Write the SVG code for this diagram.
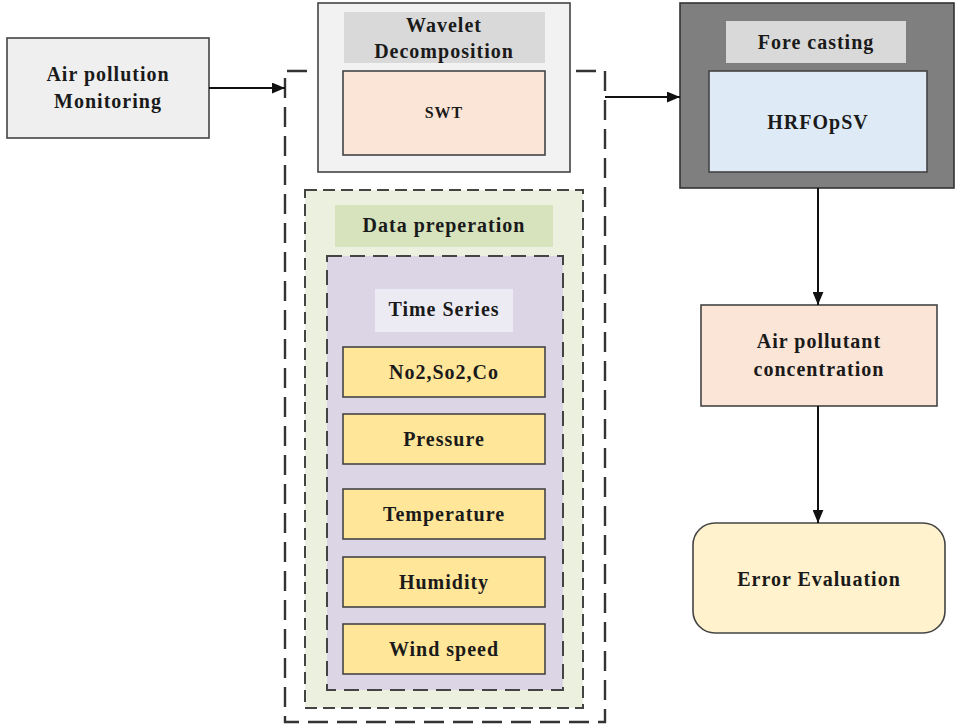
<svg xmlns="http://www.w3.org/2000/svg" width="955" height="728" viewBox="0 0 955 728">
<defs>
<marker id="ah" viewBox="0 0 12 10" refX="12" refY="5" markerWidth="13" markerHeight="11" orient="auto" markerUnits="userSpaceOnUse">
<path d="M0,0 L12,5 L0,10 z" fill="#111"/>
</marker>
<style>
text{font-family:'Liberation Serif','DejaVu Serif',serif;font-weight:bold;font-size:20px;letter-spacing:1px;fill:#1a1a1a;text-anchor:middle}
.box{stroke:#444;stroke-width:1.6}
.yel{fill:#ffe699;stroke:#444;stroke-width:1.6}
.edge{stroke:#111;stroke-width:2;fill:none;marker-end:url(#ah)}
</style>
</defs>
<rect width="955" height="728" fill="#fff"/>

<g id="outer-group">
<path d="M307,71 H285 V722 H605 V71 H570" fill="none" stroke="#333" stroke-width="2.4" stroke-dasharray="20 9"/>
</g>

<g id="air-monitoring">
<rect class="box" x="7" y="38" width="202" height="100" fill="#efefef"/>
<text x="108" y="81">Air pollution</text>
<text x="108" y="108">Monitoring</text>
</g>

<g id="wavelet">
<rect class="box" x="318" y="3" width="252" height="169" fill="#f2f2f2"/>
<rect x="344" y="12" width="201" height="51" fill="#d9d9d9"/>
<text x="444" y="32">Wavelet</text>
<text x="444" y="58">Decomposition</text>
</g>
<g id="swt">
<rect class="box" x="343" y="71" width="202" height="84" fill="#fbe5d6"/>
<text x="444" y="118" style="font-size:16px">SWT</text>
</g>

<g id="data-preparation">
<rect x="305" y="190" width="278" height="518" fill="#ebf1de" stroke="#444" stroke-width="2" stroke-dasharray="12 6"/>
<rect x="335" y="205" width="218" height="42" fill="#d6e3bc"/>
<text x="444" y="232">Data preperation</text>
</g>

<g id="time-series">
<rect x="327" y="256" width="236" height="434" fill="#dcd5e6" stroke="#444" stroke-width="2" stroke-dasharray="15 8"/>
<rect x="375" y="289" width="138" height="43" fill="#ecebf4"/>
<text x="444" y="316">Time Series</text>
</g>

<g id="no2"><rect class="yel" x="343" y="347" width="202" height="50"/><text x="444" y="379">No2,So2,Co</text></g>
<g id="pressure"><rect class="yel" x="343" y="414" width="202" height="50"/><text x="444" y="446">Pressure</text></g>
<g id="temperature"><rect class="yel" x="343" y="489" width="202" height="50"/><text x="444" y="521">Temperature</text></g>
<g id="humidity"><rect class="yel" x="343" y="557" width="202" height="50"/><text x="444" y="589">Humidity</text></g>
<g id="wind"><rect class="yel" x="343" y="624" width="202" height="50"/><text x="444" y="656">Wind speed</text></g>

<g id="forecasting">
<rect x="680" y="3" width="274" height="185" fill="#7f7f7f" stroke="#333" stroke-width="1.6"/>
<rect x="726" y="21" width="180" height="42" fill="#d9d9d9"/>
<text x="816" y="49">Fore casting</text>
</g>
<g id="hrfopsv">
<rect class="box" x="709" y="71" width="218" height="101" fill="#deebf7"/>
<text x="818" y="129">HRFOpSV</text>
</g>

<g id="pollutant-concentration">
<rect class="box" x="701" y="305" width="236" height="101" fill="#fbe5d6"/>
<text x="819" y="348">Air pollutant</text>
<text x="819" y="376">concentration</text>
</g>

<g id="error-evaluation">
<rect class="box" x="693" y="523" width="252" height="110" rx="22" fill="#fff2cc"/>
<text x="819" y="586">Error Evaluation</text>
</g>

<g id="connectors">
<line class="edge" x1="209" y1="88" x2="285" y2="88"/>
<line class="edge" x1="605" y1="97" x2="680" y2="97"/>
<line class="edge" x1="818" y1="188" x2="818" y2="305"/>
<line class="edge" x1="818" y1="406" x2="818" y2="523"/>
</g>
</svg>
